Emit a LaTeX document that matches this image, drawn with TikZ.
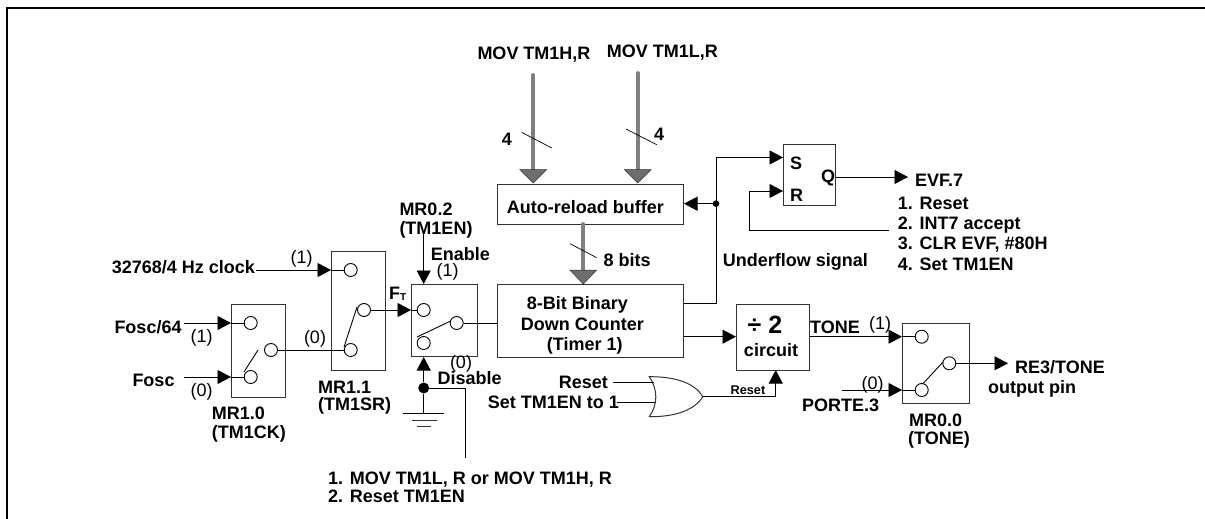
\documentclass[tikz,border=0pt]{standalone}
\usepackage{fontspec}
\setmainfont{Liberation Sans}[BoldFont={Liberation Sans Bold}]
\usetikzlibrary{arrows.meta}
\definecolor{lineg}{HTML}{333333}
\definecolor{busgray}{HTML}{808080}
\tikzset{
  x=1pt,y=-1pt,
  box/.style={draw=lineg,line width=1pt,fill=none,rectangle,inner sep=0pt},
  pin/.style={draw=black,line width=.9pt,circle,minimum size=13pt,inner sep=0pt,fill=white},
  wire/.style={draw=black,line width=.9pt},
  arr/.style={wire,-{Triangle[length=13.5pt,width=14pt]}},
  bus/.style={draw=busgray,line width=3.8pt,line cap=round},
  bushead/.style={fill=busgray!85!black,draw=lineg,line width=.5pt},
  tickl/.style={draw=black,line width=.7pt},
  lab/.style={font=\fontsize{18}{20}\selectfont\bfseries,inner sep=0pt,anchor=west,text=black,text height=12.9pt,text depth=0pt},
  reg/.style={font=\fontsize{18}{20}\selectfont,inner sep=0pt,text=black},
  dot/.style={circle,fill=black,inner sep=0pt,minimum size=#1},
}
\newcommand{\bx}[5]{\node[box,minimum width=#4pt-#2pt,minimum height=#5pt-#3pt,anchor=north west] (#1) at (#2,#3) {};}
\begin{document}
\begin{tikzpicture}
\useasboundingbox (0,0) rectangle (1205,519);
\draw[black,line width=2pt] (7,519) -- (7,8) -- (1205,8);
% boxes
\bx{mrA}{231}{304}{285}{397}
\bx{mrB}{331}{251}{385}{370}
\bx{mrC}{411}{284}{477}{356}
\bx{cnt}{497}{284}{683}{357}
\bx{buf}{497}{184}{683}{224}
\bx{sr}{783}{144}{835}{205}
\bx{dv}{736}{304}{809}{370}
\bx{mrD}{902}{323}{969}{403}
% pins
\node[pin] (a1) at (250.7,323) {};
\node[pin] (a0) at (250.7,377) {};
\node[pin] (ao) at (271,350) {};
\node[pin] (b1) at (350.7,270) {};
\node[pin] (b0) at (350.7,350) {};
\node[pin] (bo) at (364,310) {};
\node[pin] (c1) at (423.7,310) {};
\node[pin] (c0) at (423.7,343) {};
\node[pin] (co) at (456.7,323) {};
\node[pin] (d1) at (921.7,336.7) {};
\node[pin] (d0) at (921.7,390) {};
\node[pin] (do) at (949.3,363.3) {};
% coordinate anchors
\coordinate (fa) at (184.3,323);
\coordinate (fb) at (184.3,377);
\coordinate (clk) at (256,270);
\coordinate (en) at (423.7,232);
\node[dot=11pt] (gnd) at (423.7,388) {};
\coordinate (g1) at (423.7,413);
\coordinate (lk) at (465.5,458);
\coordinate (under) at (716,157.5);
\node[dot=6.6pt] (jn) at (716,203.7) {};
\coordinate (ra) at (889,230.7);
\coordinate (rb) at (749.3,191);
\coordinate (qe) at (908,177);
\coordinate (oe) at (1008,363.3);
\coordinate (pe) at (841.7,390);
% switch arms
\draw[wire] (244,372) -- (258,350);
\draw[wire] (344,347) -- (357,307);
\draw[wire] (417,337) -- (450.7,321);
\draw[wire] (922.7,384) -- (943,362);
% inputs
\draw[arr] (fa) -- (fa -| mrA.west);
\draw[arr] (fb) -- (fb -| mrA.west);
\draw[wire] (mrA.west |- a1) -- (a1);
\draw[wire] (mrA.west |- a0) -- (a0);
\draw[wire] (ao) -- (b0);
\draw[arr] (clk) -- (clk -| mrB.west);
\draw[wire] (mrB.west |- b1) -- (b1);
\draw[arr] (bo) -- (mrC.west |- bo);
\draw[wire] (mrC.west |- c1) -- (c1);
\draw[arr] (en) -- (en |- mrC.north);
\draw[arr] (gnd) -- (gnd |- mrC.south);
\draw[wire] (gnd) -- (g1);
\draw[wire] (403,413) -- (444,413);
\draw[draw=lineg,line width=.9pt] (412,420) -- (437,420);
\draw[draw=lineg,line width=.9pt] (417,426.7) -- (431,426.7);
\draw[wire] (gnd) -| (lk);
\draw[wire] (co) -- (co -| cnt.west);
% buses
\coordinate (bh) at (533.3,75);
\coordinate (bl) at (637.7,73);
\coordinate (bb) at (583.3,224);
\foreach \s in {bh,bl}{
  \draw[bus] (\s) -- (\s |- {0,172});
  \filldraw[bushead] (\s |- {0,169.5}) ++(-13.5,0) -- ++(27,0) -- ++(-13.5,13.5) -- cycle;
}
\draw[bus] (bb) -- (bb |- {0,272});
\filldraw[bushead] (bb |- {0,270}) ++(-13.5,0) -- ++(27,0) -- ++(-13.5,14) -- cycle;
\draw[tickl] (521.7,132.3) -- (551.7,148);
\draw[tickl] (626,129) -- (656.7,144.7);
\draw[tickl] (570,243.7) -- (596.7,257.7);
% underflow
\draw[wire] (cnt.east |- {0,303.3}) -| (under);
\draw[arr] (under) -- (under -| sr.west);
\draw[arr] (jn) -- (buf.east |- jn);
\draw[wire] (ra) -- (ra -| rb) -- (rb);
\draw[arr] (rb) -- (rb -| sr.west);
\draw[arr] (sr.east |- qe) -- (qe);
\draw[arr] (cnt.east |- {0,336.7}) -- (dv.west |- {0,336.7});
% OR gate
\node[inner sep=0pt,minimum size=0pt] (orout) at (702.7,396.7) {};
\draw[draw=lineg,line width=1pt] (649.3,376.7) .. controls (658,390) and (658,404) .. (649.3,416.7)
  .. controls (675,417) and (695,410) .. (orout.center)
  .. controls (695,383) and (675,376.5) .. (649.3,376.7) -- cycle;
\coordinate (r1) at (612.7,382);
\coordinate (r2) at (616.7,402);
\draw[wire] (r1) -- (654,382);
\draw[wire] (r2) -- (654.5,402);
\draw[wire] (orout.center) -| (775.7,385);
\draw[arr] (775.7,396.7) -- (775.7,370);
% output
\draw[arr] (dv.east |- d1) -- (mrD.west |- d1);
\draw[wire] (mrD.west |- d1) -- (d1);
\draw[arr] (pe) -- (mrD.west |- d0);
\draw[wire] (mrD.west |- d0) -- (d0);
\draw[arr] (do) -- (oe);
% text
\node[lab] at (477.3,53.3) {MOV TM1H,R};
\node[lab] at (606.7,51) {MOV TM1L,R};
\node[lab] at (501.7,139) {4};
\node[lab] at (654,134) {4};
\node[lab] at (603.5,260) {8 bits};
\node[lab] at (506.7,206.7) {Auto-reload buffer};
\node[lab] at (526.7,303) {8-Bit Binary};
\node[lab] at (520.7,324) {Down Counter};
\node[lab] at (546.7,344) {(Timer 1)};
\node[lab] at (722.7,260) {Underflow signal};
\node[lab] at (790,162.7) {S};
\node[lab] at (790,195) {R};
\node[lab] at (821,175.7) {Q};
\node[lab] at (915,180) {EVF.7};
\node[lab] at (897.7,202.7) {1. Reset};
\node[lab] at (897.7,223) {2. INT7 accept};
\node[lab] at (897.7,243) {3. CLR EVF, \#80H};
\node[lab] at (897.7,264) {4. Set TM1EN};
\node[lab] at (111.7,266.7) {32768/4 Hz clock};
\node[lab] at (114.3,326.7) {Fosc/64};
\node[lab] at (132.3,380) {Fosc};
\node[lab] at (211.7,413) {MR1.0};
\node[lab] at (211.7,431.7) {(TM1CK)};
\node[lab] at (318,386.7) {MR1.1};
\node[lab] at (318,404) {(TM1SR)};
\node[lab] at (389,292.7) {F\raisebox{-1pt}{\fontsize{10}{11}\selectfont T}};
\node[lab] at (399.3,209) {MR0.2};
\node[lab] at (399.3,227.7) {(TM1EN)};
\node[lab] at (430.7,254) {Enable};
\node[lab] at (437.3,378) {Disable};
\node[reg] at (301.7,259) {(1)};
\node[reg] at (201.7,338) {(1)};
\node[reg] at (201.7,391.7) {(0)};
\node[reg] at (315,339) {(0)};
\node[reg] at (447.7,271.7) {(1)};
\node[reg] at (461,364) {(0)};
\node[reg] at (880,325) {(1)};
\node[reg] at (872.7,385) {(0)};
\node[lab,anchor=east] at (608,382) {Reset};
\node[lab] at (487.7,402) {Set TM1EN to 1};
\node[lab,font=\fontsize{12.7}{14}\selectfont\bfseries,text height=9.1pt] at (730.5,390) {Reset};
\node[font=\fontsize{25}{26}\selectfont\bfseries,inner sep=0pt] at (765,325) {÷ 2};
\node[lab,anchor=center] at (771,350) {circuit};
\node[lab] at (810,326.7) {TONE};
\node[lab] at (802,405) {PORTE.3};
\node[lab] at (1015,366.7) {RE3/TONE};
\node[lab] at (988,387) {output pin};
\node[lab] at (909,420) {MR0.0};
\node[lab] at (908,438) {(TONE)};
\node[lab] at (328,478) {1. MOV TM1L, R or MOV TM1H, R};
\node[lab] at (328,496) {2. Reset TM1EN};
\end{tikzpicture}
\end{document}
